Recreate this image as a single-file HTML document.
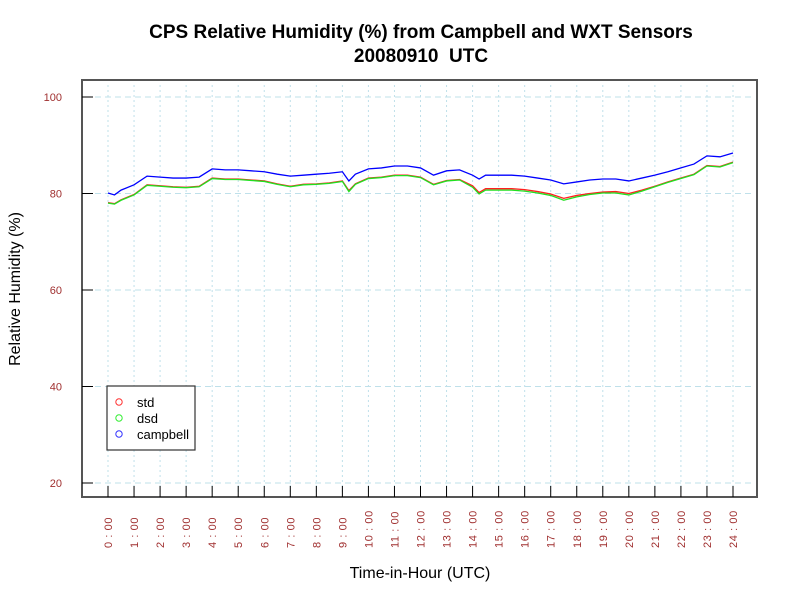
<!DOCTYPE html>
<html><head><meta charset="utf-8"><style>
body{margin:0;background:#fff}
svg{display:block;font-family:"Liberation Sans",sans-serif}
</style></head><body>
<svg id="chart" width="800" height="600">
<text x="421" y="38" text-anchor="middle" font-size="19" font-weight="bold">CPS Relative Humidity (%) from Campbell and WXT Sensors</text>
<text x="421" y="62" text-anchor="middle" font-size="19" font-weight="bold">20080910&#160; UTC</text>
<text x="420" y="578" text-anchor="middle" font-size="16">Time-in-Hour (UTC)</text>
<text transform="translate(20,289) rotate(-90)" text-anchor="middle" font-size="16">Relative Humidity (%)</text>
<g id="grid"></g><g id="series"></g>
<rect x="82" y="80" width="675" height="417" fill="none" stroke="#555" stroke-width="2"/>
<g id="axes"></g>
<g>
<rect x="107" y="386" width="88" height="64" fill="#fff" stroke="#333" stroke-width="1.2"/>
<circle cx="119" cy="402" r="3.2" fill="none" stroke="#f33"/>
<text x="137" y="407" font-size="13">std</text>
<circle cx="119" cy="418" r="3.2" fill="none" stroke="#3e3"/>
<text x="137" y="423" font-size="13">dsd</text>
<circle cx="119" cy="434" r="3.2" fill="none" stroke="#33f"/>
<text x="137" y="439" font-size="13">campbell</text>
</g>
</svg>
<script>
const times=[0,0.25,0.5,1,1.5,2,2.5,3,3.5,4,4.5,5,5.5,6,6.5,7,7.5,8,8.5,9,9.25,9.5,10,10.5,11,11.5,12,12.5,13,13.5,14,14.25,14.5,15,15.5,16,16.5,17,17.5,18,18.5,19,19.5,20,20.5,21,21.5,22,22.5,23,23.5,24];
const campbell=[80.1,79.7,80.7,81.8,83.6,83.4,83.2,83.2,83.4,85.1,84.9,84.9,84.7,84.5,84.0,83.6,83.8,84.0,84.2,84.5,82.6,84.0,85.1,85.3,85.7,85.7,85.3,83.8,84.7,84.9,83.8,83.0,83.8,83.8,83.8,83.6,83.2,82.8,82.0,82.4,82.8,83.0,83.0,82.6,83.2,83.8,84.5,85.3,86.1,87.8,87.6,88.4];
const std=[78.1,77.9,78.7,79.8,81.8,81.6,81.4,81.3,81.5,83.2,83.0,83.0,82.8,82.6,82.0,81.5,81.9,82.0,82.2,82.6,80.6,82.0,83.2,83.4,83.8,83.8,83.4,81.9,82.7,82.9,81.6,80.2,81.0,81.0,81.0,80.8,80.4,79.9,79.0,79.6,80.0,80.3,80.4,80.0,80.7,81.5,82.4,83.2,84.0,85.8,85.6,86.5];
const dsd=[78.0,77.8,78.6,79.7,81.7,81.5,81.3,81.2,81.4,83.1,82.9,82.9,82.7,82.5,81.9,81.4,81.8,81.9,82.1,82.5,80.4,81.9,83.1,83.3,83.7,83.7,83.3,81.8,82.6,82.8,81.3,79.9,80.7,80.7,80.7,80.5,80.1,79.6,78.6,79.3,79.8,80.1,80.1,79.7,80.5,81.4,82.3,83.1,83.9,85.7,85.5,86.4];
const yTicks=[20,40,60,80,100];
const xTicks=[0,1,2,3,4,5,6,7,8,9,10,11,12,13,14,15,16,17,18,19,20,21,22,23,24];
const NS="http://www.w3.org/2000/svg";
const xs=h=>108+h*(625/24);
const ys=v=>97+(100-v)*(386/80);
function mk(tag,attrs,parent){const e=document.createElementNS(NS,tag);for(const k in attrs)e.setAttribute(k,attrs[k]);parent.appendChild(e);return e;}
const grid=document.getElementById('grid'),axes=document.getElementById('axes'),ser=document.getElementById('series');
yTicks.forEach(v=>{
 const g=mk('line',{x1:95,x2:752,y1:ys(v),y2:ys(v),stroke:'#bfe0ea','stroke-dasharray':'6,4'},grid);
 
 
 const t=mk('line',{x1:82,x2:93,y1:ys(v),y2:ys(v),stroke:'#000'},axes);
 
 
 const l=mk('text',{x:62,y:ys(v)+4,'text-anchor':'end','font-size':'11',fill:'#a03030'},axes);
 l.textContent=v;
 
 
});
xTicks.forEach(h=>{
 const g=mk('line',{x1:xs(h),x2:xs(h),y1:85,y2:492,stroke:'#bfe0ea','stroke-dasharray':'2,3'},grid);
 
 
 const t=mk('line',{x1:xs(h),x2:xs(h),y1:486,y2:497,stroke:'#000'},axes);
 
 
 const l=mk('text',{transform:`translate(${xs(h)+4},548) rotate(-90)`,'font-size':'11',fill:'#a03030','letter-spacing':'0.6'},axes);
 l.textContent=h+' : 00';
 
 
});
function line(vals,color,name){
 const p=mk('polyline',{points:vals.map((v,i)=>xs(times[i])+','+ys(v)).join(' '),fill:'none',stroke:color,'stroke-width':'1.3'},ser);
 
 
}
line(std,'#ff2020','std-line');
line(dsd,'#20e020','dsd-line');
line(campbell,'#0000ff','campbell-line');
</script>
</body></html>
